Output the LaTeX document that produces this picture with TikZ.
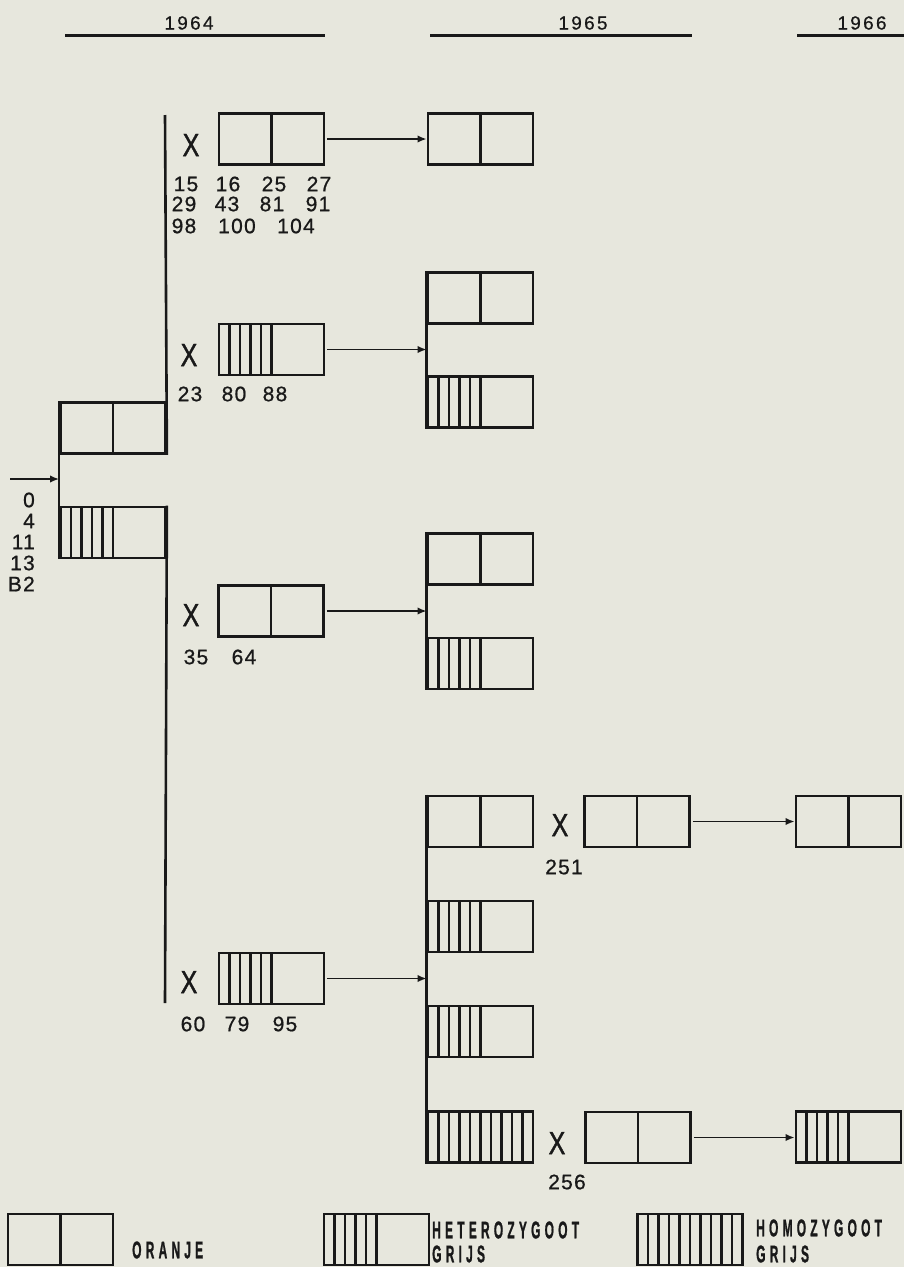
\documentclass[tikz,border=0pt]{standalone}
\usepackage{fontspec}
\setmainfont{Liberation Sans}
\newfontfamily\numfont[LetterSpace=6,FakeBold=0.8]{Liberation Sans}
\newfontfamily\yearfont[LetterSpace=12,FakeBold=0.6]{Liberation Sans}
\newfontfamily\xfont[FakeBold=1.5]{Liberation Sans}
\newfontfamily\legfont[LetterSpace=35,FakeBold=1.5]{Liberation Sans}
\usetikzlibrary{calc,arrows.meta}
\definecolor{paper}{RGB}{231,231,221}
\definecolor{ink}{RGB}{25,25,25}
\tikzset{
  gbox/.style={draw=ink, line width=2.8pt, rectangle, inner sep=0pt, minimum width=105pt, minimum height=51pt},
  stripe/.style={draw=ink, line width=2.3pt},
  oranje/.style={gbox, path picture={\draw[stripe] (path picture bounding box.north) -- (path picture bounding box.south);}},
  hetero/.style={gbox, path picture={\foreach \f in {0.1,0.2,0.3,0.4,0.5}{\draw[stripe] ($(path picture bounding box.north west)!\f!(path picture bounding box.north east)$) -- ($(path picture bounding box.south west)!\f!(path picture bounding box.south east)$);}}},
  homo/.style={gbox, path picture={\foreach \f in {0.1,0.2,0.3,0.4,0.5,0.6,0.7,0.8,0.9}{\draw[stripe] ($(path picture bounding box.north west)!\f!(path picture bounding box.north east)$) -- ($(path picture bounding box.south west)!\f!(path picture bounding box.south east)$);}}},
  vline/.style={draw=ink, line width=2.6pt},
  hline/.style={draw=ink, line width=3pt},
  arr/.style={draw=ink, line width=1.9pt, -{Latex[length=9pt,width=7.5pt]}, shorten <=2pt},
  xmark/.style={inner sep=0pt, text=ink, font=\xfont\fontsize{32}{32}\selectfont},
  num/.style={inner sep=0pt, text=ink, font=\numfont\fontsize{21}{21}\selectfont},
  year/.style={inner sep=0pt, text=ink, font=\yearfont\fontsize{19}{19}\selectfont},
  leg/.style={inner sep=0pt, text=ink, anchor=west, font=\legfont\bfseries\fontsize{24}{24}\selectfont},
}
\begin{document}
\begin{tikzpicture}[x=1pt,y=-1pt]
\useasboundingbox (0,0) rectangle (904,1267);
\fill[paper] (0,0) rectangle (904,1267);

% headers
\node[year] (y64) at (189,23) {1964};
\node[year] (y65) at (583,23) {1965};
\node[year] (y66) at (862,23) {1966};
\coordinate (h1a) at (65,35);  \coordinate (h1b) at (325,35);
\coordinate (h2a) at (430,35); \coordinate (h2b) at (692,35);
\coordinate (h3a) at (797,35); \coordinate (h3b) at (904,35);
\draw[hline] (h1a) -- (h1b);
\draw[hline] (h2a) -- (h2b);
\draw[hline] (h3a) -- (h3b);

% parents
\node[oranje] (P1) at (113,428) {};
\node[hetero] (P2) at (113,532.5) {};
\draw[vline] (P1.north west) -- (P2.south west);
\coordinate (in) at (10,479);
\draw[arr, shorten <=0pt] (in) -- (in -| P1.west);
\node[num, anchor=east] (l0) at (35,500) {0};
\node[num, anchor=east] (l4) at (35,521) {4};
\node[num, anchor=east] (l11) at (35,542) {11};
\node[num, anchor=east] (l13) at (35,563) {13};
\node[num, anchor=east] (lB2) at (35,584) {B2};

% 1964 bracket
\coordinate (t1) at (165,115);
\coordinate (b1) at (165,1003);
\draw[vline] (t1) -- (P1.south east);
\draw[vline] (P2.north east) -- (b1);

% 1964 crosses
\node[oranje] (A1) at (271.5,139) {};
\node[hetero] (A2) at (271.5,349.5) {};
\node[oranje] (A3) at (271,611) {};
\node[hetero] (A4) at (271.5,978.5) {};
\node[xmark] (XA1) at (191,145) {\scalebox{0.78}[1]{X}};
\node[xmark] (XA2) at (189,355) {\scalebox{0.78}[1]{X}};
\node[xmark] (XA3) at (191,615) {\scalebox{0.78}[1]{X}};
\node[xmark] (XA4) at (189,982) {\scalebox{0.78}[1]{X}};

\node[num] (n15) at (186,184) {15};
\node[num] (n16) at (228,184) {16};
\node[num] (n25) at (274,184) {25};
\node[num] (n27) at (319,184) {27};
\node[num] (n29) at (184,204) {29};
\node[num] (n43) at (227,204) {43};
\node[num] (n81) at (272,204) {81};
\node[num] (n91) at (318,204) {91};
\node[num] (n98) at (184,226) {98};
\node[num] (n100) at (237,226) {100};
\node[num] (n104) at (296,226) {104};

\node[num] (n23) at (190,394) {23};
\node[num] (n80) at (234,394) {80};
\node[num] (n88) at (275,394) {88};

\node[num] (n35) at (196,657) {35};
\node[num] (n64) at (244,657) {64};

\node[num] (n60) at (193,1024) {60};
\node[num] (n79) at (237,1024) {79};
\node[num] (n95) at (285,1024) {95};

% 1965
\node[oranje] (B1) at (480.5,139) {};
\node[oranje] (B2a) at (480.5,298) {};
\node[hetero] (B2b) at (480.5,402) {};
\node[oranje] (B3a) at (480.5,559) {};
\node[hetero] (B3b) at (480.5,663.5) {};
\node[oranje] (B4a) at (480.5,821.5) {};
\node[hetero] (B4b) at (480.5,926.5) {};
\node[hetero] (B4c) at (480.5,1031.5) {};
\node[homo] (B4d) at (480.5,1137) {};
\draw[vline] (B2a.north west) -- (B2b.south west);
\draw[vline] (B3a.north west) -- (B3b.south west);
\draw[vline] (B4a.north west) -- (B4d.south west);

\draw[arr] (A1.east) -- (B1.west);
\draw[arr] (A2.east) -- (A2.east -| B2a.west);
\draw[arr] (A3.east) -- (A3.east -| B3a.west);
\draw[arr] (A4.east) -- (A4.east -| B4a.west);

% 1965 crosses
\node[oranje] (C1) at (637,821.5) {};
\node[oranje] (C2) at (638,1137.5) {};
\node[xmark] (XC1) at (560,825) {\scalebox{0.78}[1]{X}};
\node[xmark] (XC2) at (557,1143) {\scalebox{0.78}[1]{X}};
\node[num] (n251) at (564,867) {251};
\node[num] (n256) at (567,1182) {256};

% 1966
\node[oranje] (D1) at (848.5,821.5) {};
\node[hetero] (D2) at (848.5,1137) {};
\draw[arr] (C1.east) -- (D1.west);
\draw[arr] (C2.east) -- (C2.east -| D2.west);

% legend
\node[oranje] (L1) at (60.5,1239.5) {};
\node[hetero] (L2) at (376.5,1239.5) {};
\node[homo] (L3) at (690,1239.5) {};
\node[leg] (t1a) at (132,1250) {\scalebox{0.5}[1]{ORANJE}};
\node[leg] (t2a) at (432,1230) {\scalebox{0.5}[1]{HETEROZYGOOT}};
\node[leg] (t2b) at (432,1254) {\scalebox{0.5}[1]{GRIJS}};
\node[leg] (t3a) at (756,1228) {\scalebox{0.5}[1]{HOMOZYGOOT}};
\node[leg] (t3b) at (756,1254) {\scalebox{0.5}[1]{GRIJS}};
\end{tikzpicture}
\end{document}
